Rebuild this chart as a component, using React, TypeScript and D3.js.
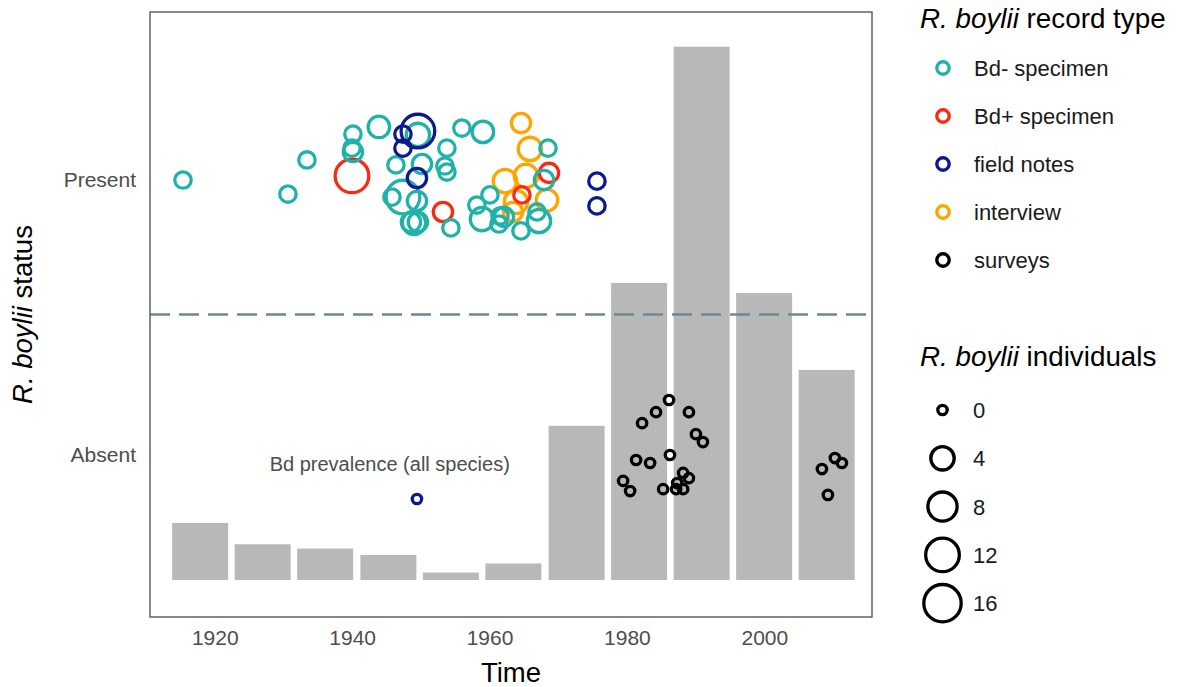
import React from "react";
import * as d3 from "d3";

// ---- data -------------------------------------------------------------
// Decadal bins of Bd prevalence across all amphibian species (bin centre year, prevalence)
const binCenters = [1917.8, 1926.9, 1936.0, 1945.2, 1954.3, 1963.4, 1972.6, 1981.7, 1990.8, 1999.9, 2009.0];
const bdPrevalence = [0.107, 0.067, 0.059, 0.047, 0.014, 0.031, 0.289, 0.557, 1.0, 0.538, 0.394];
const binWidthYears = 8.15;

// Records: [year, vertical jitter, individuals]
const bdNegSpecimen: number[][] = [
  [1915.3, -0.011, 1], [1933.35, 0.062, 1], [1930.58, -0.062, 1], [1940.04, 0.156, 1],
  [1939.9, 0.105, 1], [1940.04, 0.091, 2], [1943.82, 0.182, 3], [1946.3, 0.044, 1],
  [1947.32, -0.073, 12], [1945.72, -0.073, 1], [1949.36, -0.087, 2], [1949.5, 0.153, 4],
  [1950.09, 0.047, 2], [1948.49, -0.164, 2], [1948.92, -0.167, 4], [1949.5, -0.164, 2],
  [1953.72, 0.105, 1], [1953.43, 0.04, 1], [1953.72, 0.018, 1], [1954.3, -0.185, 1],
  [1955.9, 0.178, 1], [1958.96, 0.164, 3], [1958.08, -0.102, 1], [1959.98, -0.065, 1],
  [1958.82, -0.153, 4], [1961.44, -0.142, 1], [1961.3, -0.171, 1], [1962.02, -0.145, 2],
  [1964.5, -0.196, 1], [1966.83, -0.127, 1], [1967.12, -0.16, 4], [1968.43, 0.105, 1],
  [1967.85, -0.011, 2],
];
const bdPosSpecimen: number[][] = [
  [1939.9, 0.004, 12], [1953.14, -0.127, 2], [1964.64, -0.065, 1], [1968.58, 0.015, 2],
];
const fieldNotes: number[][] = [
  [1949.5, 0.167, 12], [1947.32, 0.156, 1], [1947.32, 0.105, 1], [1949.36, -0.004, 2],
  [1975.56, -0.015, 1], [1975.56, -0.105, 1],
];
const fieldNotesAbsent: number[][] = [[1949.36, -0.171, 0]];
const interview: number[][] = [
  [1964.5, 0.196, 2], [1965.81, 0.102, 4], [1962.17, -0.015, 4], [1965.23, 0.004, 4],
  [1963.77, -0.091, 4], [1968.29, -0.084, 3], [1963.33, -0.127, 2],
];
const surveys: number[][] = [
  [1982.13, 0.105, 0], [1984.16, 0.145, 0], [1986.05, 0.189, 0], [1988.95, 0.145, 0],
  [1989.97, 0.065, 0], [1990.99, 0.036, 0], [1986.19, -0.011, 0], [1981.26, -0.029, 0],
  [1983.3, -0.04, 0], [1979.37, -0.105, 0], [1980.39, -0.142, 0], [1985.2, -0.135, 0],
  [1987.24, -0.113, 0], [1988.11, -0.076, 0], [1988.95, -0.095, 0], [1987.09, -0.135, 0],
  [1988.11, -0.135, 0], [2008.31, -0.062, 0], [2010.2, -0.022, 0], [2011.22, -0.04, 0],
  [2009.18, -0.156, 0],
];

const statusLevels = ["Absent", "Present"];
const xTicks = [1920, 1940, 1960, 1980, 2000];
const recordTypes = ["Bd- specimen", "Bd+ specimen", "field notes", "interview", "surveys"];
const recordColors = ["#20b2aa", "#fa2a12", "#0b1a8c", "#ffa500", "#000000"];
const sizeBreaks = [0, 4, 8, 12, 16];

// ---- layout -----------------------------------------------------------
const W = 1180;
const H = 687;
const panel = { left: 150, right: 872, top: 12, bottom: 617 };
const FONT = "'Liberation Sans', Arial, Helvetica, sans-serif";
const RING = 3.3;

const x = d3.scaleLinear().domain([1910.5, 2015.6]).range([panel.left, panel.right]);
// discrete status positions 1, 2 with 0.6 expansion each side
const y = d3.scaleLinear().domain([0.4, 2.6]).range([panel.bottom, panel.top]);
const statusPos = (s: string) => statusLevels.indexOf(s) + 1;
const yPrev = d3.scaleLinear().domain([0, 1]).range([580, 46.7]);
const r = d3.scaleSqrt().domain([0, 16]).range([4.7, 18.7]);

type Layer = { rows: number[][]; status: string; color: string };
const layers: Layer[] = [
  { rows: interview, status: "Present", color: recordColors[3] },
  { rows: bdPosSpecimen, status: "Present", color: recordColors[1] },
  { rows: bdNegSpecimen, status: "Present", color: recordColors[0] },
  { rows: fieldNotes, status: "Present", color: recordColors[2] },
  { rows: fieldNotesAbsent, status: "Absent", color: recordColors[2] },
  { rows: surveys, status: "Absent", color: recordColors[4] },
];

export default function App() {
  return (
    <svg
      width={W}
      height={H}
      style={{ position: "absolute", left: 0, top: 0, display: "block", background: "#fff" }}
      fontFamily={FONT}
    >
      {/* prevalence bars */}
      <g>
        {binCenters.map((c, i) => (
          <rect
            key={i}
            x={x(c - binWidthYears / 2)}
            width={x(c + binWidthYears / 2) - x(c - binWidthYears / 2)}
            y={yPrev(bdPrevalence[i])}
            height={yPrev(0) - yPrev(bdPrevalence[i])}
            fill="#b8b8b8"
          />
        ))}
      </g>

      {/* divider between the two status levels */}
      <line
        x1={panel.left}
        x2={panel.right}
        y1={y(1.5)}
        y2={y(1.5)}
        stroke="#6b8a90"
        strokeWidth={2.6}
        strokeDasharray="20 9"
      />

      <text
        x={x(1945.4)}
        y={y(statusPos("Absent")) + 19}
        textAnchor="middle"
        fontSize={20}
        fill="#4d4d4d"
      >
        Bd prevalence (all species)
      </text>

      {/* record points */}
      <g fill="none" strokeWidth={RING}>
        {layers.map((l, li) =>
          l.rows.map((d, i) => (
            <circle
              key={`${li}-${i}`}
              cx={x(d[0])}
              cy={y(statusPos(l.status) + d[1])}
              r={r(d[2])}
              stroke={l.color}
            />
          ))
        )}
      </g>

      {/* panel border */}
      <rect
        x={panel.left}
        y={panel.top}
        width={panel.right - panel.left}
        height={panel.bottom - panel.top}
        fill="none"
        stroke="#4a4a4a"
        strokeWidth={1.3}
      />

      {/* axes */}
      <g fontSize={21} fill="#4d4d4d">
        {xTicks.map((t) => (
          <text key={t} x={x(t)} y={645} textAnchor="middle">
            {t}
          </text>
        ))}
        {statusLevels.map((s) => (
          <text key={s} x={136} y={y(statusPos(s)) + 10} textAnchor="end">
            {s}
          </text>
        ))}
      </g>
      <text x={(panel.left + panel.right) / 2} y={682} textAnchor="middle" fontSize={27.5} fill="#000">
        Time
      </text>
      <text
        transform={`translate(32,${(panel.top + panel.bottom) / 2}) rotate(-90)`}
        textAnchor="middle"
        fontSize={27.5}
        fill="#000"
      >
        <tspan fontStyle="italic">R. boylii</tspan> status
      </text>

      {/* colour legend */}
      <g>
        <text x={920} y={28} fontSize={27.8} fill="#000">
          <tspan fontStyle="italic">R. boylii</tspan> record type
        </text>
        {recordTypes.map((t, i) => (
          <g key={t} transform={`translate(0,${68 + i * 48})`}>
            <circle cx={943} cy={0} r={6.2} fill="none" stroke={recordColors[i]} strokeWidth={3.4} />
            <text x={974} y={8} fontSize={22} fill="#1a1a1a">
              {t}
            </text>
          </g>
        ))}
      </g>

      {/* size legend */}
      <g>
        <text x={920} y={366} fontSize={27.8} fill="#000">
          <tspan fontStyle="italic">R. boylii</tspan> individuals
        </text>
        {sizeBreaks.map((s, i) => (
          <g key={s} transform={`translate(0,${410 + i * 48.3})`}>
            <circle cx={942.5} cy={0} r={r(s)} fill="none" stroke="#000" strokeWidth={RING} />
            <text x={973} y={8} fontSize={22} fill="#1a1a1a">
              {s}
            </text>
          </g>
        ))}
      </g>
    </svg>
  );
}
